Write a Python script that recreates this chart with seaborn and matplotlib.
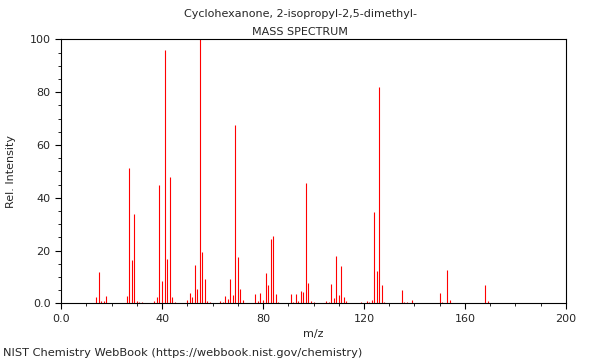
import seaborn as sns
import matplotlib.pyplot as plt
from matplotlib.ticker import MultipleLocator

# peaks (m/z, relative intensity)
mz = [14, 15, 16, 17, 18, 26, 27, 28, 29, 30, 31, 32, 37, 38, 39, 40, 41, 42, 43, 44, 45,
      50, 51, 52, 53, 54, 55, 56, 57, 58, 59, 63, 64, 65, 66, 67, 68, 69, 70, 71, 72,
      75, 77, 78, 79, 80, 81, 82, 83, 84, 85, 86,
      91, 92, 93, 94, 95, 96, 97, 98, 99, 100,
      105, 106, 107, 108, 109, 110, 111, 112, 113,
      119, 121, 122, 123, 124, 125, 126, 127, 128,
      133, 135, 136, 137, 139, 140, 150, 151, 153, 154, 168, 169]
intensity = [2.3, 12.0, 1.0, 1.0, 2.8, 2.8, 51.2, 16.4, 33.8, 1.0, 0.5, 0.5, 1.0, 2.3, 44.9, 8.6, 96.0, 16.9, 48.0, 2.3, 0.5,
             1.2, 4.0, 2.3, 14.6, 5.3, 100.0, 19.4, 9.3, 1.0, 0.5, 1.0, 0.5, 2.8, 1.5, 9.3, 3.3, 67.5, 17.4, 5.3, 1.2,
             0.3, 3.5, 1.0, 3.8, 1.2, 11.6, 6.8, 24.2, 25.5, 3.5, 0.5,
             3.5, 0.5, 3.7, 1.0, 4.5, 4.3, 45.4, 7.7, 1.0, 0.4,
             0.9, 0.5, 7.3, 2.0, 17.9, 3.0, 14.3, 2.5, 0.9,
             0.4, 1.0, 0.5, 1.3, 34.6, 12.4, 82.0, 7.0, 0.5,
             0.3, 5.0, 0.5, 0.5, 1.2, 0.3, 3.9, 0.6, 12.6, 1.2, 7.0, 0.8]

x_ticks = [0, 40, 80, 120, 160, 200]
x_labels = ["0.0", "40", "80", "120", "160", "200"]
y_ticks = [0, 20, 40, 60, 80, 100]
y_labels = ["0.0", "20", "40", "60", "80", "100"]

title_lines = ["Cyclohexanone, 2-isopropyl-2,5-dimethyl-", "MASS SPECTRUM"]
footer = "NIST Chemistry WebBook (https://webbook.nist.gov/chemistry)"

sns.set_style("ticks")
plt.rcParams['font.family'] = ['DejaVu Sans']

fig = plt.figure(figsize=(6, 3.6), dpi=100)
ax = fig.add_axes([0.1017, 0.1575, 0.8416, 0.7333])

ax.vlines(mz, 0, intensity, colors='#ff0000', linewidth=0.8)

ax.set_xlim(0, 200)
ax.set_ylim(0, 100)
ax.set_xticks(x_ticks)
ax.set_xticklabels(x_labels)
ax.set_yticks(y_ticks)
ax.set_yticklabels(y_labels)
ax.xaxis.set_minor_locator(MultipleLocator(10))
ax.yaxis.set_minor_locator(MultipleLocator(5))
ax.tick_params(axis='both', which='major', labelsize=8, length=4, width=0.8, color='black')
ax.tick_params(axis='both', which='minor', length=2, width=0.6, color='black')
for s in ax.spines.values():
    s.set_color('black')
    s.set_linewidth(0.8)

ax.set_xlabel("m/z", fontsize=8)
ax.set_ylabel("Rel. Intensity", fontsize=8, labelpad=10)

fig.text(0.5, 0.96, title_lines[0], ha='center', va='center', fontsize=8)
fig.text(0.5, 0.912, title_lines[1], ha='center', va='center', fontsize=8)
fig.text(0.005, 0.02, footer, ha='left', va='center', fontsize=8.2)

fig.savefig("out.png", dpi=100)
